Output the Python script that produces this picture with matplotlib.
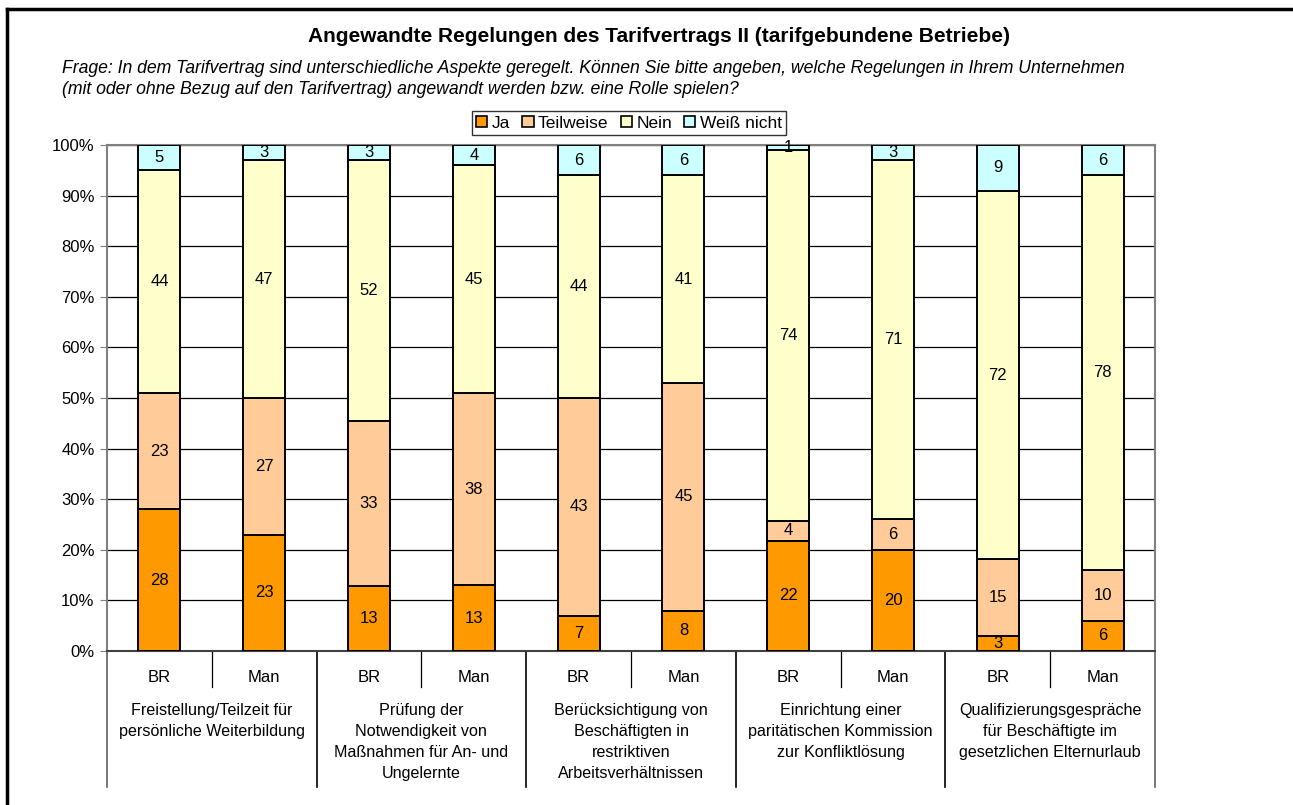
import matplotlib
matplotlib.use("Agg")
from matplotlib import pyplot as plt
from matplotlib.patches import Patch
from matplotlib.lines import Line2D
import numpy as np

plt.rcParams['font.family'] = ['Liberation Sans', 'DejaVu Sans']

# ---- data
bars = ["BR", "Man", "BR", "Man", "BR", "Man", "BR", "Man", "BR", "Man"]
groups = [
    "Freistellung/Teilzeit für\npersönliche Weiterbildung",
    "Prüfung der\nNotwendigkeit von\nMaßnahmen für An- und\nUngelernte",
    "Berücksichtigung von\nBeschäftigten in\nrestriktiven\nArbeitsverhältnissen",
    "Einrichtung einer\nparitätischen Kommission\nzur Konfliktlösung",
    "Qualifizierungsgespräche\nfür Beschäftigte im\ngesetzlichen Elternurlaub",
]
series = ["Ja", "Teilweise", "Nein", "Weiß nicht"]
ja = [28, 23, 13, 13, 7, 8, 22, 20, 3, 6]
teilweise = [23, 27, 33, 38, 43, 45, 4, 6, 15, 10]
nein = [44, 47, 52, 45, 44, 41, 74, 71, 72, 78]
weiss_nicht = [5, 3, 3, 4, 6, 6, 1, 3, 9, 6]
colors = ["#FF9900", "#FFCC99", "#FFFFCC", "#CCFFFF"]

title = "Angewandte Regelungen des Tarifvertrags II (tarifgebundene Betriebe)"
frage = ("Frage: In dem Tarifvertrag sind unterschiedliche Aspekte geregelt. Können Sie bitte angeben, "
         "welche Regelungen in Ihrem Unternehmen\n(mit oder ohne Bezug auf den Tarifvertrag) angewandt "
         "werden bzw. eine Rolle spielen?")

W, H = 1293, 805
fig = plt.figure(figsize=(W / 100, H / 100), dpi=100)

# plot area in pixels
x0, x1, ytop, ybot = 107, 1155, 145, 651
ax = fig.add_axes([x0 / W, (H - ybot) / H, (x1 - x0) / W, (ybot - ytop) / H])

vals = np.array([ja, teilweise, nein, weiss_nicht], dtype=float)
totals = vals.sum(axis=0)
pct = vals / totals * 100
x = np.arange(len(bars))
bottom = np.zeros(len(bars))
for i in range(len(series)):
    ax.bar(x, pct[i], 0.4, bottom=bottom, color=colors[i], edgecolor="black",
           linewidth=1.4, zorder=3, label=series[i])
    for j in range(len(bars)):
        ax.text(x[j], bottom[j] + pct[i][j] / 2, f"{int(vals[i][j])}", ha="center",
                va="center", fontsize=12, zorder=4)
    bottom += pct[i]

ax.set_xlim(-0.5, len(bars) - 0.5)
ax.set_ylim(0, 100)
ax.set_yticks(np.arange(0, 101, 10))
ax.set_yticklabels([f"{v}%" for v in range(0, 101, 10)], fontsize=12)
ax.set_xticks([])
ax.yaxis.grid(True, color="black", linewidth=0.9, zorder=0)
ax.set_axisbelow(True)
for s in ["left", "bottom", "right", "top"]:
    ax.spines[s].set_color("#808080")
    ax.spines[s].set_linewidth(1.5)
ax.spines["bottom"].set_color("#404040")
ax.tick_params(axis="y", length=5, color="#808080", pad=4)

# category axis (two levels)
ph = ybot - ytop
tr = ax.get_xaxis_transform()
def yax(py):
    return -(py - ybot) / ph

for j, b in enumerate(bars):
    ax.text(x[j], yax(677), b, transform=tr, ha="center", va="center", fontsize=12)
for k in range(len(groups)):
    ax.add_line(Line2D([2 * k + 0.5] * 2, [0, yax(687)], transform=tr, color="black",
                       linewidth=0.9, clip_on=False))
    ax.text(2 * k + 0.5, yax(703), groups[k], transform=tr, ha="center", va="top",
            fontsize=11.6, linespacing=1.5)
for k in range(len(groups) + 1):
    ax.add_line(Line2D([2 * k - 0.5] * 2, [0, yax(787)], transform=tr,
                       color="black" if 0 < k < len(groups) else "#606060",
                       linewidth=1.2, clip_on=False))

# titles
fig.text(659 / W, 1 - 37 / H, title, ha="center", va="center", fontsize=15, fontweight="bold")
fig.text(62 / W, 1 - 60 / H, frage, ha="left", va="top", fontsize=12.7, style="italic",
         linespacing=1.34)

# legend
handles = [Patch(facecolor=c, edgecolor="black", linewidth=1.2) for c in colors]
leg = fig.legend(handles, series, loc="center", bbox_to_anchor=(629 / W, 1 - 123 / H),
                 ncol=4, fontsize=12.5, frameon=True, fancybox=False, handlelength=0.65,
                 handleheight=0.65, handletextpad=0.25, columnspacing=0.7, borderpad=0.25)
leg.get_frame().set_edgecolor("black")
leg.get_frame().set_linewidth(1.0)

# outer frame (top and left edge)
fig.add_artist(Line2D([7 / W, 1], [1 - 9 / H, 1 - 9 / H], transform=fig.transFigure,
                      color="black", linewidth=2.5))
fig.add_artist(Line2D([7 / W, 7 / W], [0, 1 - 9 / H], transform=fig.transFigure,
                      color="black", linewidth=2.5))

fig.savefig("out.png", dpi=100)
